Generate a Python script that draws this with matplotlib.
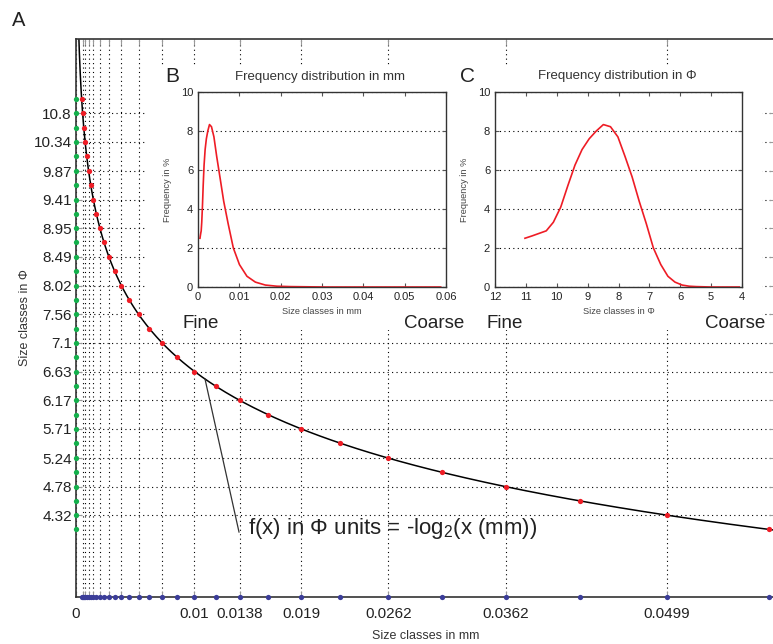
import matplotlib
matplotlib.use('Agg')
import matplotlib.pyplot as plt
from matplotlib.patches import Rectangle
import numpy as np

plt.rcParams['font.family'] = ['Liberation Sans', 'DejaVu Sans']
plt.rcParams['mathtext.default'] = 'regular'

# --------------------------
# DATA
# --------------------------
# size classes in phi units and the same classes in mm
phi_classes = [11.03, 10.8, 10.57, 10.34, 10.11, 9.87, 9.64, 9.41, 9.18, 8.95,
               8.72, 8.49, 8.26, 8.02, 7.79, 7.56, 7.33, 7.1, 6.87, 6.63,
               6.40, 6.17, 5.94, 5.71, 5.48, 5.24, 5.01, 4.78, 4.55, 4.32, 4.09]
mm_classes = [0.000478, 0.000561, 0.000658, 0.000772, 0.000905, 0.001069, 0.001253,
              0.001470, 0.001724, 0.002022, 0.002371, 0.002781, 0.003262, 0.003852,
              0.004518, 0.005299, 0.006215, 0.007289, 0.008549, 0.010027, 0.011842,
              0.013887, 0.016288, 0.019103, 0.022406, 0.026459, 0.031034, 0.036400,
              0.042689, 0.050069, 0.058719]
# frequency (%) per size class
freq_pct = [2.50, 2.62, 2.75, 2.88, 3.32, 4.10, 5.20, 6.25, 7.05, 7.60,
            8.00, 8.33, 8.22, 7.70, 6.70, 5.65, 4.40, 3.25, 2.00, 1.15,
            0.55, 0.25, 0.10, 0.04, 0.02, 0.01, 0.0, 0.0, 0.0, 0.0, 0.0]

phi_tick_labels = ['4.32', '4.78', '5.24', '5.71', '6.17', '6.63', '7.1', '7.56',
                   '8.02', '8.49', '8.95', '9.41', '9.87', '10.34', '10.8']
mm_tick_labels = ['0', '', '', '', '', '', '', '', '', '',
                  '0.01', '0.0138', '0.019', '0.0262', '0.0362', '0.0499']

inset_mm_ticks = [0, 0.01, 0.02, 0.03, 0.04, 0.05, 0.06]
inset_mm_labels = ['0', '0.01', '0.02', '0.03', '0.04', '0.05', '0.06']
inset_phi_ticks = [12, 11, 10, 9, 8, 7, 6, 5, 4]
freq_ticks = [0, 2, 4, 6, 8, 10]

c_red = '#ee1c25'
c_green = '#14b04c'
c_blue = '#3b3d99'
dots = (0, (1, 3))

W, H = 773, 644
def fx(px):
    return px / W
def fy(py):
    return 1 - py / H

fig = plt.figure(figsize=(W / 100, H / 100), dpi=100)

# --------------------------
# MAIN PANEL (A)
# --------------------------
ax = fig.add_axes([fx(76), fy(597), fx(775) - fx(76), fy(39) - fy(597)])
ax.set_xlim(0, 0.05922)
ax.set_ylim(3, 12)
ax.set_axisbelow(True)

phi_ticks = [float(t) for t in phi_tick_labels]
mm_ticks = [0] + mm_classes[1::2]
ax.set_yticks(phi_ticks)
ax.set_yticklabels(phi_tick_labels)
ax.set_xticks(mm_ticks)
ax.set_xticklabels(mm_tick_labels)
ax.grid(True, color='k', linestyle=dots, linewidth=0.8)
ax.tick_params(direction='in', length=4, color='#9a9a9a', top=True, right=True,
               labelsize=11, labelcolor='#222222')
ax.tick_params(axis='x', pad=7)
ax.tick_params(axis='y', pad=3)
for s in ax.spines.values():
    s.set_color('#333333')
    s.set_linewidth(1.2)

# white backdrop behind the two insets
ax.add_patch(Rectangle((fx(145), fy(330)), fx(762) - fx(145), fy(65) - fy(330),
                       transform=fig.transFigure, facecolor='white', edgecolor='none',
                       zorder=1, clip_on=False))

xc = np.geomspace(2 ** -12.2, 0.0592, 600)
ax.plot(xc, -np.log2(xc), color='k', lw=1.1, zorder=2)
ax.plot(mm_classes, phi_classes, 'o', color=c_red, ms=3.8, mec='none', zorder=3)
ax.plot([0] * len(phi_classes), phi_classes, 'o', color=c_green, ms=3.8, mec='none',
        zorder=4, clip_on=False)
ax.plot(mm_classes, [ax.get_ylim()[0]] * len(mm_classes), 'o', color=c_blue, ms=3.8,
        mec='none', zorder=4, clip_on=False)

ax.set_xlabel('Size classes in mm', fontsize=9, color='#333333', labelpad=7)
ax.set_ylabel('Size classes in Φ', fontsize=9, color='#333333', labelpad=2)

# leader line and formula
ax.plot([0.01093, 0.01381], [6.516, 4.048], color='#333333', lw=0.9, zorder=2)
ax.text(0.01457, 4.11, 'f(x) in Φ units = -log$_2$(x (mm))', fontsize=16,
        color='#222222', ha='left', va='center')

# --------------------------
# INSETS (B, C)
# --------------------------
def style_inset(a):
    a.set_ylim(0, 10)
    a.set_yticks(freq_ticks)
    a.grid(True, axis='y', color='k', linestyle=dots, linewidth=0.8)
    a.tick_params(direction='in', length=3, top=True, right=True, labelsize=8,
                  color='#555555', labelcolor='#222222', pad=3.5)
    for s in a.spines.values():
        s.set_color('#333333')
        s.set_linewidth(1.0)
    a.set_ylabel('Frequency in %', fontsize=6.7, color='#444444', labelpad=6)

axb = fig.add_axes([fx(198), fy(287), fx(446) - fx(198), fy(92) - fy(287)])
axb.plot(mm_classes, freq_pct, color=c_red, lw=1.2)
axb.set_xlim(0, 0.06)
axb.set_xticks(inset_mm_ticks)
axb.set_xticklabels(inset_mm_labels)
style_inset(axb)
axb.set_xlabel('Size classes in mm', fontsize=6.7, color='#444444', labelpad=4)

axc = fig.add_axes([fx(495), fy(287), fx(742) - fx(495), fy(92) - fy(287)])
axc.plot(phi_classes, freq_pct, color=c_red, lw=1.2)
axc.set_xlim(12, 4)
axc.set_xticks(inset_phi_ticks)
style_inset(axc)
axc.set_xlabel('Size classes in Φ', fontsize=6.7, color='#444444', labelpad=4)

# titles, panel letters and Fine/Coarse hints
fig.text(fx(320), fy(77), 'Frequency distribution in mm', fontsize=9.5,
         color='#333333', ha='center', va='center')
fig.text(fx(617), fy(76), 'Frequency distribution in Φ', fontsize=9.5,
         color='#333333', ha='center', va='center')
fig.text(fx(12), fy(20), 'A', fontsize=14.5, ha='left', va='center', color='#222222')
fig.text(fx(172), fy(77), 'B', fontsize=15, ha='center', va='center', color='#222222')
fig.text(fx(467), fy(76), 'C', fontsize=15, ha='center', va='center', color='#222222')
for left, right in [(183, 464), (486, 765)]:
    fig.text(fx(left), fy(323), 'Fine', fontsize=13.5, ha='left', va='center',
             color='#222222')
    fig.text(fx(right), fy(323), 'Coarse', fontsize=13.5, ha='right', va='center',
             color='#222222')

fig.savefig('out.png', dpi=100)
